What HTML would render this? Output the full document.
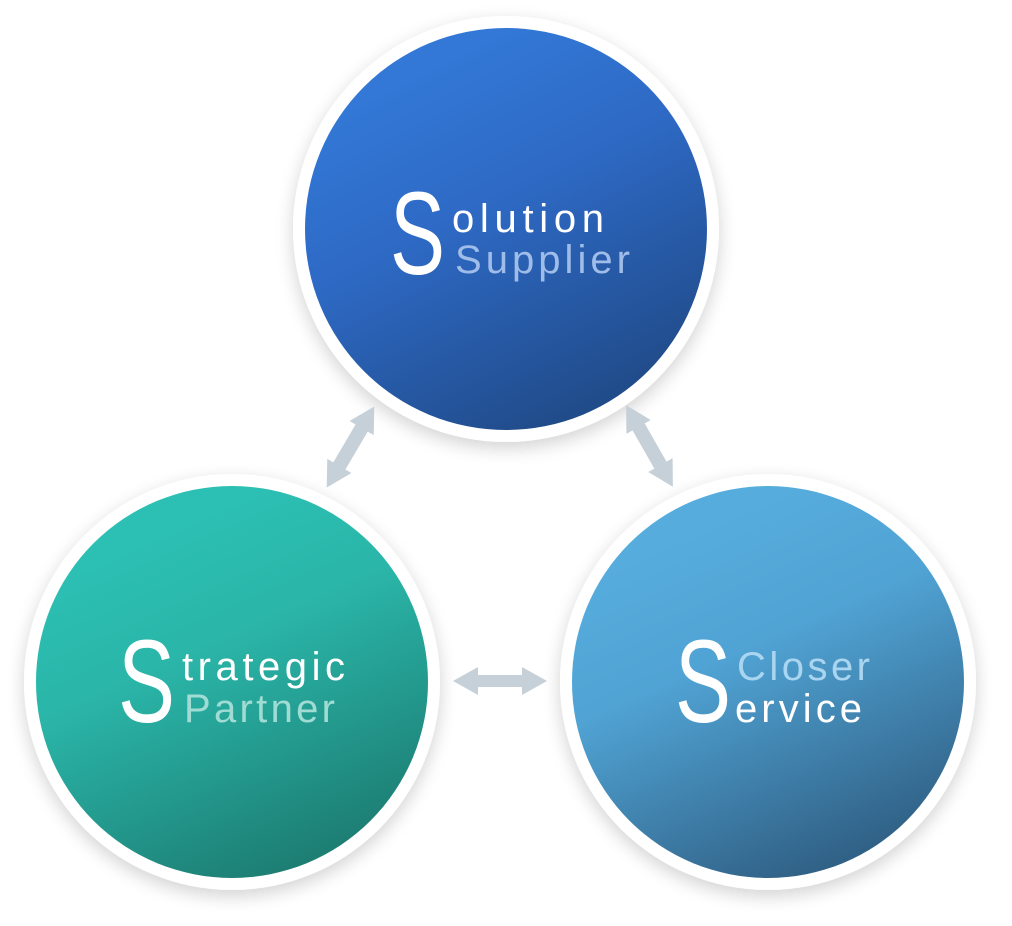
<!DOCTYPE html>
<html><head><meta charset="utf-8"><style>html,body{margin:0;padding:0;background:#fff;width:1012px;height:926px;overflow:hidden}</style></head>
<body>
<svg width="1012" height="926" viewBox="0 0 1012 926" xmlns="http://www.w3.org/2000/svg" font-family="'Liberation Sans', sans-serif">
<defs>
<linearGradient id="gt" x1="0.3" y1="0.1" x2="0.75" y2="1"><stop offset="0" stop-color="#3378d6"/><stop offset="0.35" stop-color="#2e6ac6"/><stop offset="1" stop-color="#1f4883"/></linearGradient>
<linearGradient id="gl" x1="0.3" y1="0.1" x2="0.7" y2="1"><stop offset="0" stop-color="#2cc0b4"/><stop offset="0.35" stop-color="#2ab5a8"/><stop offset="1" stop-color="#1c7a70"/></linearGradient>
<linearGradient id="gr" x1="0.3" y1="0.1" x2="0.7" y2="1"><stop offset="0" stop-color="#56addd"/><stop offset="0.35" stop-color="#50a3d4"/><stop offset="1" stop-color="#2e5c80"/></linearGradient>
<filter id="sh" x="-20%" y="-20%" width="140%" height="140%"><feGaussianBlur in="SourceAlpha" stdDeviation="9"/><feOffset dy="6"/><feComponentTransfer><feFuncA type="linear" slope="0.18"/></feComponentTransfer><feMerge><feMergeNode/><feMergeNode in="SourceGraphic"/></feMerge></filter>
</defs>
<g filter="url(#sh)">
<circle cx="506" cy="229" r="213" fill="#fff"/>
<circle cx="232" cy="682" r="208" fill="#fff"/>
<circle cx="768" cy="682" r="208" fill="#fff"/>
</g>
<circle cx="506" cy="229" r="201" fill="url(#gt)"/>
<circle cx="232" cy="682" r="196" fill="url(#gl)"/>
<circle cx="768" cy="682" r="196" fill="url(#gr)"/>
<g fill="#c5d0d8">
<polygon points="453,681 478,667 478,675 522,675 522,667 547,681 522,695 522,687 478,687 478,695"/>
<g transform="translate(350.5,447) rotate(-59.6)"><polygon points="-47,0 -22,-14 -22,-7 22,-7 22,-14 47,0 22,14 22,7 -22,7 -22,14"/></g>
<g transform="translate(649.5,446) rotate(60.2)"><polygon points="-47,0 -22,-14 -22,-7 22,-7 22,-14 47,0 22,14 22,7 -22,7 -22,14"/></g>
</g>
<g fill="#fff">
<text x="390" y="274" font-size="118" textLength="55" lengthAdjust="spacingAndGlyphs">S</text>
<text x="452" y="232" font-size="40" textLength="152" lengthAdjust="spacing">olution</text>
<text x="455" y="273" font-size="40" fill="#9fbde8" textLength="175" lengthAdjust="spacing">Supplier</text>
<text x="118" y="722" font-size="118" textLength="57" lengthAdjust="spacingAndGlyphs">S</text>
<text x="182" y="680" font-size="40" textLength="163" lengthAdjust="spacing">trategic</text>
<text x="184" y="722" font-size="40" fill="#a0dcd3" textLength="151" lengthAdjust="spacing">Partner</text>
<text x="675" y="722" font-size="118" textLength="56" lengthAdjust="spacingAndGlyphs">S</text>
<text x="737" y="680" font-size="40" fill="#aad5f0" textLength="133" lengthAdjust="spacing">Closer</text>
<text x="735" y="722" font-size="40" textLength="127" lengthAdjust="spacing">ervice</text>
</g>
</svg>
</body></html>
